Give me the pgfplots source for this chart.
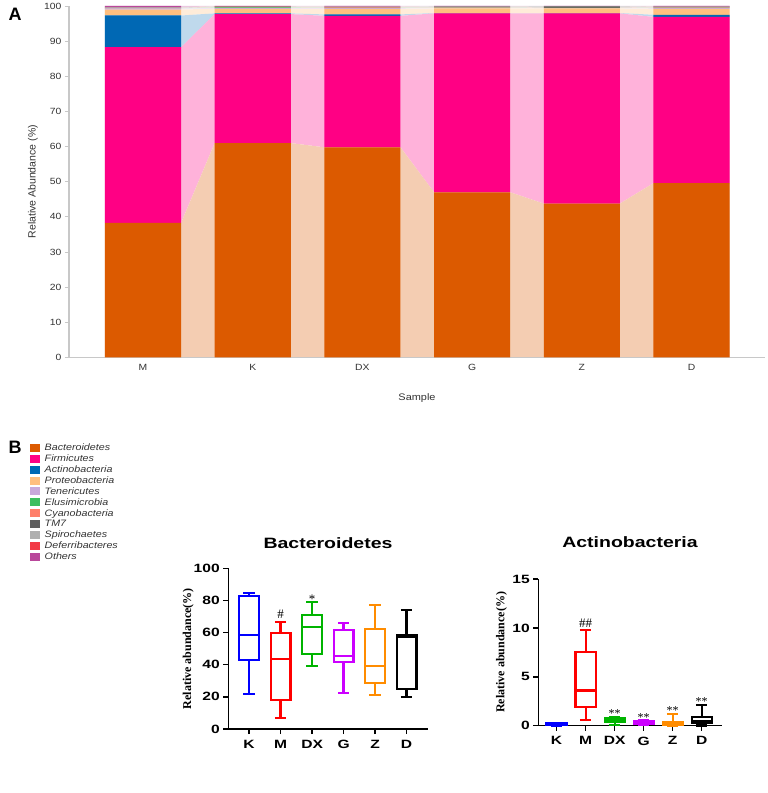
\documentclass[border=0pt]{standalone}
\usepackage{pgfplots}
\pgfplotsset{compat=1.18}
\usepackage{pgfplotstable}
\usepgfplotslibrary{statistics}
\usepackage{fontspec}
\setmainfont{Liberation Sans}
\newfontfamily\wsans[FakeStretch=1.3]{Liberation Sans}
\newfontfamily\lsans[FakeStretch=1.15]{Liberation Sans}
\newfontfamily\tnr{Liberation Serif}

\definecolor{bac}{HTML}{DC5A00}
\definecolor{fir}{HTML}{FF0084}
\definecolor{act}{HTML}{0068B4}
\definecolor{pro}{HTML}{FFBF7F}
\definecolor{ten}{HTML}{C9A9DB}
\definecolor{elu}{HTML}{3DBE5F}
\definecolor{cya}{HTML}{FF7F6A}
\definecolor{tms}{HTML}{5F5F5F}
\definecolor{spi}{HTML}{AFAFAF}
\definecolor{def}{HTML}{F23A45}
\definecolor{oth}{HTML}{B9479B}
\definecolor{axgray}{HTML}{C8C8C8}
\definecolor{txtgray}{HTML}{333333}
\definecolor{kblue}{HTML}{0000FF}
\definecolor{mred}{HTML}{FF0000}
\definecolor{dxgreen}{HTML}{00B400}
\definecolor{gpurple}{HTML}{CC00FF}
\definecolor{zorange}{HTML}{FF8C00}

% phylum composition per sample, order M K DX G Z D
\pgfplotstableread{
x Bac Fir Act Pro Ten Elu Cya TM Spi Def Oth
0 38.3 50.0 9.0 1.7 0.3 0.05 0.05 0.1 0.1 0.05 0.35
1 61.0 36.7 0.2 1.3 0.2 0.2 0.1 0.1 0.05 0.05 0.1
2 59.8 37.4 0.4 1.6 0.2 0.1 0.1 0.1 0.1 0.05 0.15
3 47.0 50.9 0.1 1.3 0.2 0.05 0.15 0.1 0.1 0.02 0.08
4 43.8 54.1 0.1 1.3 0.1 0.05 0.05 0.4 0.05 0.02 0.03
5 49.6 47.3 0.6 1.7 0.3 0.05 0.15 0.05 0.05 0.05 0.15
}\bars

% same values at the left and right edge of each bar, for the bands between bars
\pgfplotstableread{
x Bac Fir Act Pro Ten Elu Cya TM Spi Def Oth
-0.347 38.3 50.0 9.0 1.7 0.3 0.05 0.05 0.1 0.1 0.05 0.35
0.347 38.3 50.0 9.0 1.7 0.3 0.05 0.05 0.1 0.1 0.05 0.35
0.653 61.0 36.7 0.2 1.3 0.2 0.2 0.1 0.1 0.05 0.05 0.1
1.347 61.0 36.7 0.2 1.3 0.2 0.2 0.1 0.1 0.05 0.05 0.1
1.653 59.8 37.4 0.4 1.6 0.2 0.1 0.1 0.1 0.1 0.05 0.15
2.347 59.8 37.4 0.4 1.6 0.2 0.1 0.1 0.1 0.1 0.05 0.15
2.653 47.0 50.9 0.1 1.3 0.2 0.05 0.15 0.1 0.1 0.02 0.08
3.347 47.0 50.9 0.1 1.3 0.2 0.05 0.15 0.1 0.1 0.02 0.08
3.653 43.8 54.1 0.1 1.3 0.1 0.05 0.05 0.4 0.05 0.02 0.03
4.347 43.8 54.1 0.1 1.3 0.1 0.05 0.05 0.4 0.05 0.02 0.03
4.653 49.6 47.3 0.6 1.7 0.3 0.05 0.15 0.05 0.05 0.05 0.15
5.347 49.6 47.3 0.6 1.7 0.3 0.05 0.15 0.05 0.05 0.05 0.15
}\bands

\pgfplotsset{
  panelA/.style={at={(69pt,435.5pt)}, anchor=south west, width=696pt, height=351.5pt,
    scale only axis, xmin=-0.675, xmax=5.67, ymin=0, ymax=100},
  swatch/.style={legend image code/.code={\fill[##1, draw=none] (0pt,-3.5pt) rectangle (9.5pt,4.5pt);}},
  panelB/.style={anchor=south west, scale only axis, clip=false,
    axis lines*=left, axis line style={line width=1.5pt, -},
    tick align=outside, major tick length=5pt, tick style={line width=1.5pt, black},
    xtick={0,...,5}, xticklabels={K,M,DX,G,Z,D},
    /pgf/number format/assume math mode=true,
    ticklabel style={font=\wsans\bfseries\fontsize{12}{12}\selectfont},
    xticklabel style={yshift=-2.5pt},
    ylabel={Relative abundance(\%)},
    every axis y label/.style={at={(axis description cs:-0.2,0.5)}, rotate=90, anchor=center,
      font=\tnr\bfseries\fontsize{12}{13}\selectfont},
    boxplot/draw direction=y},
  bx/.style={line width=2.2pt, draw=#1, solid},
}

\begin{document}
\begin{tikzpicture}
\path[use as bounding box] (0,0) rectangle (768pt,793pt);

% bands between bars
\begin{axis}[panelA, hide axis, stack plots=y]
\addplot[fill=bac!30, draw=none] table[x=x, y=Bac] {\bands} \closedcycle;
\addplot[fill=fir!30, draw=none] table[x=x, y=Fir] {\bands} \closedcycle;
\addplot[fill=act!25, draw=none] table[x=x, y=Act] {\bands} \closedcycle;
\addplot[fill=pro!30, draw=none] table[x=x, y=Pro] {\bands} \closedcycle;
\addplot[fill=ten!30, draw=none] table[x=x, y=Ten] {\bands} \closedcycle;
\addplot[fill=elu!30, draw=none] table[x=x, y=Elu] {\bands} \closedcycle;
\addplot[fill=cya!30, draw=none] table[x=x, y=Cya] {\bands} \closedcycle;
\addplot[fill=tms!30, draw=none] table[x=x, y=TM] {\bands} \closedcycle;
\addplot[fill=spi!30, draw=none] table[x=x, y=Spi] {\bands} \closedcycle;
\addplot[fill=def!30, draw=none] table[x=x, y=Def] {\bands} \closedcycle;
\addplot[fill=oth!30, draw=none] table[x=x, y=Oth] {\bands} \closedcycle;
\end{axis}

% stacked bars
\begin{axis}[panelA, ybar stacked, bar width=0.694,
  axis lines*=left, axis line style={draw=axgray, line width=1.2pt, -},
  xtick={0,...,5}, xticklabels={M,K,DX,G,Z,D}, ytick={0,10,...,100},
  tick align=outside, major tick length=4pt,
  ytick style={draw=axgray, line width=0.8pt}, xtick style={draw=none},
  /pgf/number format/assume math mode=true,
  ticklabel style={font=\lsans\fontsize{9}{10}\selectfont, text=txtgray},
  xticklabel style={anchor=center, yshift=-6pt},
  xlabel={Sample}, ylabel={Relative Abundance (\%)},
  every axis x label/.style={at={(axis description cs:0.5,0)}, anchor=center, yshift=-40.5pt,
    font=\lsans\fontsize{9.5}{10}\selectfont, text=txtgray},
  every axis y label/.style={at={(axis description cs:-0.0517,0.5)}, rotate=90, anchor=center,
    font=\fontsize{10.5}{11}\selectfont, text=txtgray},
  legend style={at={(-0.056,-0.243)}, anchor=north west, draw=none, fill=none, inner sep=0pt,
    legend cell align=left, row sep=0.4pt, column sep=4pt,
    font=\lsans\itshape\fontsize{9.3}{9}\selectfont, text=txtgray,
    nodes={inner sep=1pt, text height=6.5pt, text depth=2pt}},
]
\addplot[fill=bac, draw=none, swatch] table[x=x, y=Bac] {\bars};
\addlegendentry{Bacteroidetes}
\addplot[fill=fir, draw=none, swatch] table[x=x, y=Fir] {\bars};
\addlegendentry{Firmicutes}
\addplot[fill=act, draw=none, swatch] table[x=x, y=Act] {\bars};
\addlegendentry{Actinobacteria}
\addplot[fill=pro, draw=none, swatch] table[x=x, y=Pro] {\bars};
\addlegendentry{Proteobacteria}
\addplot[fill=ten, draw=none, swatch] table[x=x, y=Ten] {\bars};
\addlegendentry{Tenericutes}
\addplot[fill=elu, draw=none, swatch] table[x=x, y=Elu] {\bars};
\addlegendentry{Elusimicrobia}
\addplot[fill=cya, draw=none, swatch] table[x=x, y=Cya] {\bars};
\addlegendentry{Cyanobacteria}
\addplot[fill=tms, draw=none, swatch] table[x=x, y=TM] {\bars};
\addlegendentry{TM7}
\addplot[fill=spi, draw=none, swatch] table[x=x, y=Spi] {\bars};
\addlegendentry{Spirochaetes}
\addplot[fill=def, draw=none, swatch] table[x=x, y=Def] {\bars};
\addlegendentry{Deferribacteres}
\addplot[fill=oth, draw=none, swatch] table[x=x, y=Oth] {\bars};
\addlegendentry{Others}
\end{axis}

% Bacteroidetes box plot
\begin{axis}[panelB, at={(228.3pt,64pt)}, width=199.7pt, height=160.7pt,
  xmin=-0.66, xmax=5.68, ymin=0, ymax=100, ytick={0,20,...,100},
  boxplot/box extend=0.63, boxplot/whisker extend=0.36]
\addplot[bx=kblue, boxplot prepared={draw position=0, lower whisker=21.6, lower quartile=42.7, median=58.3, upper quartile=83.0, upper whisker=84.4}] coordinates {};
\addplot[bx=mred, boxplot prepared={draw position=1, lower whisker=6.8, lower quartile=17.8, median=43.8, upper quartile=59.8, upper whisker=66.6}] coordinates {};
\addplot[bx=dxgreen, boxplot prepared={draw position=2, lower whisker=39.2, lower quartile=46.9, median=63.5, upper quartile=71.0, upper whisker=79.0}] coordinates {};
\addplot[bx=gpurple, boxplot prepared={draw position=3, lower whisker=22.2, lower quartile=41.5, median=45.4, upper quartile=61.4, upper whisker=66.2}] coordinates {};
\addplot[bx=zorange, boxplot prepared={draw position=4, lower whisker=21.4, lower quartile=28.4, median=39.2, upper quartile=62.4, upper whisker=77.0}] coordinates {};
\addplot[bx=black, boxplot prepared={draw position=5, lower whisker=20.1, lower quartile=25.1, median=57.3, upper quartile=58.5, upper whisker=73.9}] coordinates {};
\node[font=\tnr\fontsize{13}{13}\selectfont] at (axis cs:1,71.5) {\#};
\node[font=\tnr\fontsize{13}{13}\selectfont] at (axis cs:2,81) {*};
\end{axis}

% Actinobacteria box plot
\begin{axis}[panelB, at={(538.3pt,67.3pt)}, width=183.7pt, height=146.7pt,
  xmin=-0.63, xmax=5.7, ymin=0, ymax=15, ytick={0,5,10,15},
  boxplot/box extend=0.69, boxplot/whisker extend=0.4]
\addplot[bx=kblue, boxplot prepared={draw position=0, lower whisker=0.02, lower quartile=0.06, median=0.12, upper quartile=0.22, upper whisker=0.3}] coordinates {};
\addplot[bx=mred, boxplot prepared={draw position=1, lower whisker=0.58, lower quartile=1.9, median=3.6, upper quartile=7.5, upper whisker=9.8}] coordinates {};
\addplot[bx=dxgreen, boxplot prepared={draw position=2, lower whisker=0.1, lower quartile=0.35, median=0.6, upper quartile=0.8, upper whisker=0.85}] coordinates {};
\addplot[bx=gpurple, boxplot prepared={draw position=3, lower whisker=0.05, lower quartile=0.15, median=0.3, upper quartile=0.45, upper whisker=0.55}] coordinates {};
\addplot[bx=zorange, boxplot prepared={draw position=4, lower whisker=0.0, lower quartile=0.05, median=0.2, upper quartile=0.35, upper whisker=1.2}] coordinates {};
\addplot[bx=black, boxplot prepared={draw position=5, lower whisker=0.02, lower quartile=0.24, median=0.51, upper quartile=0.92, upper whisker=2.08}] coordinates {};
\node[font=\tnr\fontsize{13}{13}\selectfont] at (axis cs:1,10.5) {\#\#};
\node[font=\tnr\fontsize{12}{13}\selectfont] at (axis cs:2,1.2) {**};
\node[font=\tnr\fontsize{12}{13}\selectfont] at (axis cs:3,0.85) {**};
\node[font=\tnr\fontsize{12}{13}\selectfont] at (axis cs:4,1.55) {**};
\node[font=\tnr\fontsize{12}{13}\selectfont] at (axis cs:5,2.45) {**};
\end{axis}

% panel letters and box plot titles
\node[font=\bfseries\fontsize{18}{20}\selectfont, anchor=center] at (15pt,779pt) {A};
\node[font=\bfseries\fontsize{18}{20}\selectfont, anchor=center] at (15pt,346pt) {B};
\node[font=\wsans\bfseries\fontsize{15}{16}\selectfont] at (328pt,250.3pt) {Bacteroidetes};
\node[font=\wsans\bfseries\fontsize{15}{16}\selectfont] at (630pt,251pt) {Actinobacteria};
\end{tikzpicture}
\end{document}
